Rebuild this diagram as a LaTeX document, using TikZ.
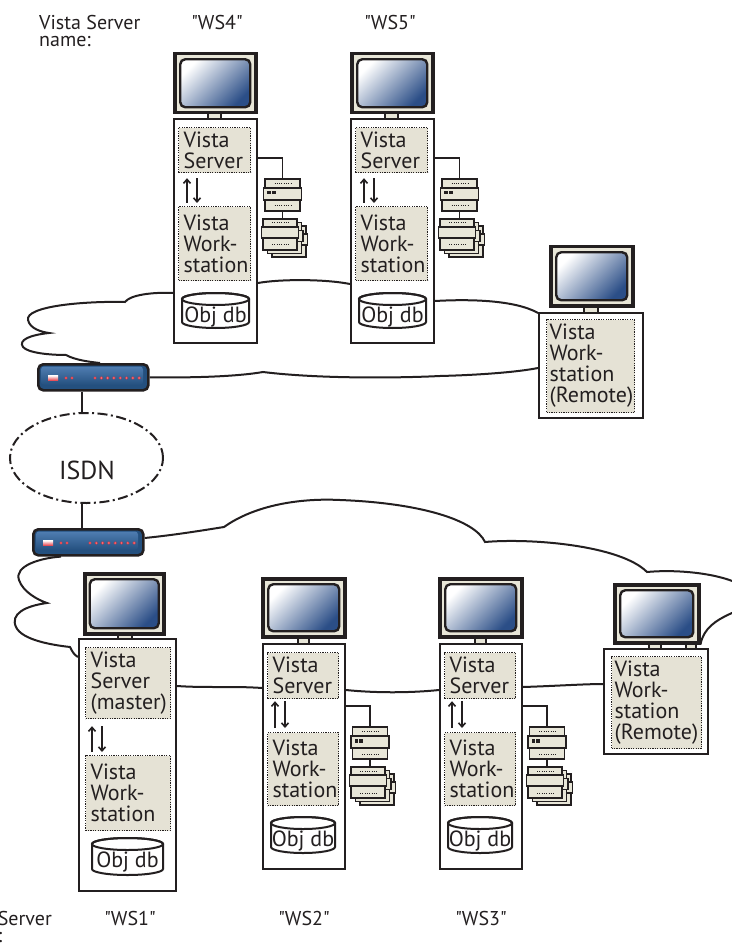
\documentclass[tikz,border=0pt]{standalone}
\usepackage{fontspec}
\setmainfont{PT Sans}
\usetikzlibrary{arrows.meta,calc,shapes.geometric}

\definecolor{ink}{HTML}{231F20}
\definecolor{panefill}{HTML}{E5E2D5}
\definecolor{casefill}{HTML}{E8E6D8}
\definecolor{screenblue}{HTML}{2B4E87}
\definecolor{routerblue}{HTML}{24507F}
\definecolor{routerlite}{HTML}{4F7DB1}
\definecolor{ledred}{HTML}{E3323D}

\newcommand\qt[1]{\textquotedbl#1\textquotedbl}

\tikzset{
  lbl/.style={font=\fontsize{20}{17}\selectfont, text=ink, inner sep=0pt, align=left},
  towerbox/.style={rectangle, draw=ink, line width=2pt, fill=white, inner sep=0pt, anchor=north west},
  monframe/.style={rectangle, draw=ink, line width=3.5pt, fill=casefill, inner sep=0pt, anchor=north west},
  monscreen/.style={rectangle, rounded corners=5pt, draw=ink, line width=2.4pt,
    top color=white, bottom color=screenblue, shading angle=45, inner sep=0pt},
  monneck/.style={rectangle, draw=ink, line width=1.6pt, fill=casefill, inner sep=0pt, anchor=north west},
  panebox/.style={rectangle, draw=ink, line width=1.2pt, dash pattern=on 1.2pt off 1.2pt,
    fill=panefill, anchor=north west, inner xsep=5pt, inner ysep=0pt, align=left,
    text=ink, font=\fontsize{22}{21}\selectfont},
  dbtext/.style={font=\fontsize{22}{21}\selectfont, text=ink, inner sep=0pt},
  linkline/.style={draw=ink, line width=1.8pt},
  flowarrow/.style={draw=ink, line width=1.6pt, -{Straight Barb[length=4pt, width=7pt]}},
  cloudline/.style={draw=ink, line width=2pt},
  devbox/.style={draw=ink, line width=1.8pt, fill=casefill},
  dotrow/.style={draw=ink, line width=1pt, dash pattern=on 1pt off 1.3pt},
  % database cylinder: #1 half width, #2 height; origin at top centre
  pics/dbcyl/.style n args={2}{code={
    \path[draw=ink, line width=2pt, fill=white]
      (-#1,6) -- (-#1,#2-6) arc[start angle=180, end angle=0, x radius=#1, y radius=6]
      -- (#1,6) arc[start angle=0, end angle=-180, x radius=#1, y radius=6] -- cycle;
    \draw[ink, line width=2pt] (0,6) ellipse [x radius=#1, y radius=6];
    \node[dbtext, anchor=base] (-t) at (0,29) {Obj db};
  }},
  % controller module; origin at top centre
  pics/rack/.style={code={
    \coordinate (-top) at (0,0);
    \coordinate (-bot) at (0,32);
    \draw[devbox] (-17.5,0) rectangle (17.5,9);
    \draw[devbox] (-17.5,21) rectangle (17.5,32);
    \draw[devbox] (-19,9) rectangle (19,21);
    \draw[dotrow] (-8,4.5) -- (10,4.5);
    \draw[dotrow] (-8,27) -- (10,27);
    \fill[ink] (-15.5,12) rectangle (-12,15.5);
    \fill[ink] (-11,12) rectangle (-7,15.5);
  }},
  % stacked I/O modules; origin at top centre of the front one
  pics/iostack/.style={code={
    \foreach \dx/\dy in {9/7,4.5/3.5,0/0}{
      \begin{scope}[shift={(\dx,\dy)}]
        \draw[devbox] (-17,0) rectangle (17,8);
        \draw[devbox] (-17,19) rectangle (17,31);
        \draw[devbox] (-18.5,8) rectangle (18.5,19);
        \draw[dotrow] (-8,4) -- (9,4);
        \draw[dotrow] (-8,26) -- (9,26);
      \end{scope}
    }
    \coordinate (-top) at (0,0);
  }},
  % ISDN router; origin at top left
  pics/router/.style={code={
    \node[rectangle, rounded corners=5pt, draw=ink, line width=2.6pt, fill=routerblue,
      minimum width=110pt, minimum height=26pt, anchor=north west, inner sep=0pt] (-body) at (0,0) {};
    \shade[top color=routerlite, bottom color=routerblue, rounded corners=3pt] (4,3.5) rectangle (106,22);
    \fill[top color=white, bottom color=ledred!85] (11,12.5) rectangle (21,17);
    \foreach \x in {29,35} {
      \fill[ledred] (\x,15) circle (1.7pt);
      \fill[white!55!ledred] (\x,15) circle (0.7pt);
    }
    \foreach \i in {0,...,7} {
      \fill[ledred] (58+\i*6.3,15) circle (1.7pt);
      \fill[white!55!ledred] (58+\i*6.3,15) circle (0.7pt);
    }
  }},
}

\begin{document}
\begin{tikzpicture}[x=1pt, y=-1pt]
\useasboundingbox (0,0) rectangle (731,949);

% ================= upper site =================
% server WS4
\node[monneck, minimum width=13pt, minimum height=9pt] (k4) at (207,110) {};
\node[towerbox, minimum width=83pt, minimum height=224pt] (t4) at (173,118) {};
\node[monframe, minimum width=81pt, minimum height=59pt] (m4) at (173,52) {};
\node[monscreen, minimum width=70pt, minimum height=48pt] (sc4) at (m4.center) {};
\node[panebox, text width=62pt, minimum height=45pt] (s4) at (178,127) {Vista\\Server};
\node[panebox, text width=62pt, minimum height=74pt] (w4) at (178,206) {Vista\\Work-\\station};
\draw[flowarrow] ($(w4.north west)+(9,-3)$) -- ($(s4.south west)+(9,5)$);
\draw[flowarrow] ($(s4.south west)+(19,5)$) -- ($(w4.north west)+(19,-3)$);
\pic (d4) at (215.5,293) {dbcyl={33.5}{35}};
\pic (r4) at (282.5,179) {rack};
\pic (io4) at (280,219) {iostack};
\draw[linkline] ($(t4.north east)+(0,40)$) -| (r4-top);
\draw[linkline] (r4-bot) -- (r4-bot |- io4-top);

% server WS5
\node[monneck, minimum width=13pt, minimum height=9pt] (k5) at (384,110) {};
\node[towerbox, minimum width=83pt, minimum height=224pt] (t5) at (350,118) {};
\node[monframe, minimum width=81pt, minimum height=59pt] (m5) at (350,52) {};
\node[monscreen, minimum width=70pt, minimum height=48pt] (sc5) at (m5.center) {};
\node[panebox, text width=62pt, minimum height=45pt] (s5) at (355,127) {Vista\\Server};
\node[panebox, text width=62pt, minimum height=74pt] (w5) at (355,206) {Vista\\Work-\\station};
\draw[flowarrow] ($(w5.north west)+(9,-3)$) -- ($(s5.south west)+(9,5)$);
\draw[flowarrow] ($(s5.south west)+(19,5)$) -- ($(w5.north west)+(19,-3)$);
\pic (d5) at (392.5,293) {dbcyl={33.5}{35}};
\pic (r5) at (459.5,179) {rack};
\pic (io5) at (457,219) {iostack};
\draw[linkline] ($(t5.north east)+(0,40)$) -| (r5-top);
\draw[linkline] (r5-bot) -- (r5-bot |- io5-top);

% remote workstation (upper)
\node[monneck, minimum width=14pt, minimum height=10pt] (krw) at (583,303) {};
\node[towerbox, minimum width=104pt, minimum height=105pt] (rw) at (538,312) {};
\node[monframe, minimum width=82pt, minimum height=59pt] (mrw) at (549,245) {};
\node[monscreen, minimum width=71pt, minimum height=48pt] (scrw) at (mrw.center) {};
\node[panebox, inner xsep=3pt, text width=82pt, minimum height=93pt] (prw) at (546,319) {Vista\\Work-\\station\\(Remote)};

% routers and ISDN
\pic (rtA) at (37,363) {router};
\pic (rtB) at (32,528) {router};
\node[ellipse, draw=ink, line width=2pt, dash pattern=on 10pt off 3.5pt on 2pt off 3.5pt,
  minimum width=153pt, minimum height=90pt, inner sep=0pt] (isdn) at (86.5,458) {};
\node[font=\fontsize{26}{26}\selectfont, text=ink, inner sep=0pt, anchor=base] (isdntext) at (87,479) {ISDN};
\draw[linkline] ($(rtA-body.south west)+(45,0)$) coordinate (ia) -- (ia |- isdn.north);
\draw[linkline] ($(rtB-body.north west)+(50,0)$) coordinate (ib) -- (ib |- isdn.south);

% ================= lower site =================
% server WS1 (master)
\node[monneck, minimum width=14pt, minimum height=8pt] (k1) at (117,631) {};
\node[towerbox, minimum width=97pt, minimum height=252pt] (t1) at (78,638) {};
\node[monframe, minimum width=79pt, minimum height=60pt] (m1) at (83,572) {};
\node[monscreen, minimum width=69pt, minimum height=49pt] (sc1) at (m1.center) {};
\node[panebox, text width=75pt, minimum height=71pt] (s1) at (85,647) {Vista\\Server\\(master)};
\node[panebox, text width=75pt, minimum height=75pt] (w1) at (85,755) {Vista\\Work-\\station};
\draw[flowarrow] ($(w1.north west)+(7,-3)$) -- ($(s1.south west)+(7,7)$);
\draw[flowarrow] ($(s1.south west)+(17,7)$) -- ($(w1.north west)+(17,-3)$);
\pic (d1) at (127.5,838) {dbcyl={35.5}{37}};

% server WS2
\node[monneck, minimum width=11pt, minimum height=9pt] (k2) at (297,635) {};
\node[towerbox, minimum width=82pt, minimum height=225pt] (t2) at (262,643) {};
\node[monframe, minimum width=82pt, minimum height=58pt] (m2) at (261,577) {};
\node[monscreen, minimum width=71pt, minimum height=47pt] (sc2) at (m2.center) {};
\node[panebox, text width=61pt, minimum height=46pt] (s2) at (267,652) {Vista\\Server};
\node[panebox, text width=61pt, minimum height=73pt] (w2) at (267,732) {Vista\\Work-\\station};
\draw[flowarrow] ($(w2.north west)+(8,-4)$) -- ($(s2.south west)+(8,2)$);
\draw[flowarrow] ($(s2.south west)+(18,2)$) -- ($(w2.north west)+(18,-4)$);
\pic (d2) at (303,817) {dbcyl={32}{36}};
\pic (r2) at (370,727) {rack};
\pic (io2) at (368,767) {iostack};
\draw[linkline] ($(t2.north east)+(0,63)$) -| (r2-top);
\draw[linkline] (r2-bot) -- (r2-bot |- io2-top);

% server WS3
\node[monneck, minimum width=11pt, minimum height=9pt] (k3) at (474,635) {};
\node[towerbox, minimum width=82pt, minimum height=225pt] (t3) at (439,643) {};
\node[monframe, minimum width=82pt, minimum height=58pt] (m3) at (438,577) {};
\node[monscreen, minimum width=71pt, minimum height=47pt] (sc3) at (m3.center) {};
\node[panebox, text width=61pt, minimum height=46pt] (s3) at (444,652) {Vista\\Server};
\node[panebox, text width=61pt, minimum height=73pt] (w3) at (444,732) {Vista\\Work-\\station};
\draw[flowarrow] ($(w3.north west)+(8,-4)$) -- ($(s3.south west)+(8,2)$);
\draw[flowarrow] ($(s3.south west)+(18,2)$) -- ($(w3.north west)+(18,-4)$);
\pic (d3) at (480,817) {dbcyl={32}{36}};
\pic (r3) at (547,727) {rack};
\pic (io3) at (545,767) {iostack};
\draw[linkline] ($(t3.north east)+(0,63)$) -| (r3-top);
\draw[linkline] (r3-bot) -- (r3-bot |- io3-top);

% remote workstation (lower)
\node[monneck, minimum width=12pt, minimum height=9pt] (krb1) at (648,640) {};
\node[monneck, minimum width=10pt, minimum height=9pt] (krb2) at (685,640) {};
\node[towerbox, minimum width=104pt, minimum height=105pt] (rb) at (603,648) {};
\node[monframe, minimum width=84pt, minimum height=58pt] (mrb) at (613,583) {};
\node[monscreen, minimum width=73pt, minimum height=47pt] (scrb) at (mrb.center) {};
\node[panebox, inner xsep=3pt, text width=84pt, minimum height=92pt] (prb) at (611,656) {Vista\\Work-\\station\\(Remote)};

% ================= network clouds =================
% upper LAN
\draw[cloudline] ($(t4.north west)+(0,175)$)
  .. controls (152,292) and (130,295) .. (125,302)
  .. controls (85,301) and (25,306) .. (28,320)
  .. controls (30,329) and (42,332) .. (49,333)
  .. controls (30,335) and (18,340) .. (23,347)
  .. controls (28,353) and (50,355) .. (66,355)
  .. controls (75,360) and (90,362) .. ($(rtA-body.north west)+(63,0)$);
\draw[cloudline] (rtA-body.east)
  .. controls (200,378) and (240,376) .. (263,372)
  .. controls (320,379) and (400,378) .. (440,376)
  .. controls (480,375) and (518,372) .. ($(rw.north west)+(0,56)$);
\draw[cloudline] ($(t4.north east)+(0,165)$)
  .. controls (280,279) and (325,279) .. ($(t5.north west)+(0,166)$);
\draw[cloudline] ($(t5.north east)+(0,183)$)
  .. controls (470,299) and (515,300) .. ($(rw.north west)+(0,1)$);

% lower LAN
\draw[cloudline] ($(rtB-body.south west)+(29,0)$)
  .. controls (40,558) and (14,566) .. (19,580)
  .. controls (23,592) and (38,600) .. (47,603)
  .. controls (25,606) and (10,614) .. (16,627)
  .. controls (22,640) and (52,645) .. (70,647)
  .. controls (72,651) and (74,655) .. ($(t1.north west)+(0,19)$);
\draw[cloudline] ($(rtB-body.north east)+(0,10)$)
  .. controls (175,535) and (205,530) .. (224,527)
  .. controls (255,505) and (300,498) .. (340,500)
  .. controls (420,503) and (475,520) .. (485,542)
  .. controls (530,538) and (620,545) .. (647,572)
  .. controls (690,568) and (750,578) .. (752,598)
  .. controls (754,612) and (706,612) .. (mrb.south east);
\draw[cloudline] ($(t1.north east)+(0,48)$)
  .. controls (205,688) and (235,686) .. ($(t2.north west)+(0,45)$);
\draw[cloudline] ($(t2.north east)+(0,47)$)
  .. controls (375,693) and (410,693) .. ($(t3.north west)+(0,47)$);
\draw[cloudline] ($(t3.north east)+(0,44)$)
  .. controls (555,686) and (585,684) .. ($(rb.north west)+(0,36)$);

% ================= captions =================
\node[lbl, anchor=north west] (capA) at (39,15) {Vista Server\\name:};
\node[lbl, anchor=north] (n4) at (217,15) {\qt{WS4}};
\node[lbl, anchor=north] (n5) at (390,15) {\qt{WS5}};
\node[lbl, anchor=north east] (capB) at (52,911) {Vista Server\\name:};
\node[lbl, anchor=north] (n1) at (130,911) {\qt{WS1}};
\node[lbl, anchor=north] (n2) at (304,911) {\qt{WS2}};
\node[lbl, anchor=north] (n3) at (481,911) {\qt{WS3}};
\end{tikzpicture}
\end{document}
